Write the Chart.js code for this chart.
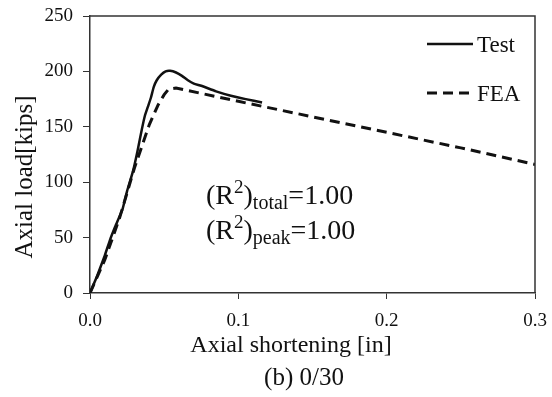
<!DOCTYPE html>
<html>
<head>
<meta charset="utf-8">
<script src="https://cdn.jsdelivr.net/npm/chart.js@4/dist/chart.umd.min.js"></script>
<style>
  html, body { margin: 0; padding: 0; background: #fff; }
  #wrap { width: 552px; height: 397px; }
</style>
</head>
<body>
<div id="wrap"><canvas id="chart" width="552" height="397"></canvas></div>
<script>
// Test curve (axial shortening [in] vs axial load [kips])
const testX = [0, 0.005, 0.010, 0.0135, 0.017, 0.022, 0.025, 0.029, 0.032, 0.035, 0.037, 0.039, 0.041, 0.043, 0.045, 0.048, 0.051, 0.054, 0.058, 0.062, 0.066, 0.070, 0.075, 0.085, 0.095, 0.105, 0.116];
const testY = [0, 16, 34, 48, 60, 76, 92, 110, 128, 148, 160, 168, 176, 186, 192, 197, 200, 200.5, 199, 196, 192, 189, 187, 182, 178, 175, 172];

// FEA curve
const feaX = [0, 0.010, 0.020, 0.030, 0.040, 0.046, 0.050, 0.053, 0.058, 0.100, 0.150, 0.200, 0.250, 0.300];
const feaY = [0, 30, 68, 113, 152, 170, 179, 184, 185, 173, 159, 145, 131, 116];

const xTicks = [0, 0.1, 0.2, 0.3];
const yTicks = [0, 50, 100, 150, 200, 250];

const SERIF = '"Liberation Serif", "Times New Roman", serif';

function pts(xs, ys) {
  return xs.map((x, i) => ({ x: x, y: ys[i] }));
}

// extra text: axis titles, caption, legend, R^2 note, frame
const extras = {
  id: 'extras',
  afterDraw(chart) {
    const ctx = chart.ctx;
    const a = chart.chartArea;
    ctx.save();
    ctx.strokeStyle = '#333';
    ctx.lineWidth = 1.5;
    ctx.beginPath();
    ctx.moveTo(a.left, a.top);
    ctx.lineTo(a.right, a.top);
    ctx.lineTo(a.right, a.bottom);
    ctx.stroke();

    ctx.fillStyle = '#111';
    ctx.textBaseline = 'alphabetic';

    // x title & caption
    ctx.textAlign = 'center';
    ctx.font = '24px ' + SERIF;
    ctx.fillText('Axial shortening [in]', 291, 352);
    ctx.font = '25px ' + SERIF;
    ctx.fillText('(b) 0/30', 304, 385);

    // y title
    ctx.save();
    ctx.translate(32, 177);
    ctx.rotate(-Math.PI / 2);
    ctx.font = '25px ' + SERIF;
    ctx.fillText('Axial load[kips]', 0, 0);
    ctx.restore();

    // legend
    ctx.textAlign = 'left';
    ctx.strokeStyle = '#111';
    ctx.lineWidth = 2.5;
    ctx.beginPath();
    ctx.moveTo(427, 44); ctx.lineTo(473, 44);
    ctx.stroke();
    ctx.setLineDash([10, 6]);
    ctx.lineWidth = 3;
    ctx.beginPath();
    ctx.moveTo(427, 93); ctx.lineTo(475, 93);
    ctx.stroke();
    ctx.setLineDash([]);
    ctx.font = '23px ' + SERIF;
    ctx.fillText('Test', 477, 52);
    ctx.fillText('FEA', 477, 101);

    // R^2 note
    function r2(label, x, y) {
      ctx.font = '28px ' + SERIF;
      ctx.fillText('(R', x, y);
      x += ctx.measureText('(R').width;
      ctx.font = '19px ' + SERIF;
      ctx.fillText('2', x, y - 11);
      x += ctx.measureText('2').width;
      ctx.font = '28px ' + SERIF;
      ctx.fillText(')', x, y);
      x += ctx.measureText(')').width;
      ctx.font = '20px ' + SERIF;
      ctx.fillText(label, x, y + 5);
      x += ctx.measureText(label).width;
      ctx.font = '28px ' + SERIF;
      ctx.fillText('=1.00', x, y);
    }
    r2('total', 206, 204);
    r2('peak', 206, 239);
    ctx.restore();
  }
};

new Chart(document.getElementById('chart'), {
  type: 'line',
  data: {
    datasets: [
      {
        label: 'Test',
        data: pts(testX, testY),
        borderColor: '#111',
        borderWidth: 2.5,
        pointRadius: 0,
        tension: 0.15,
        fill: false
      },
      {
        label: 'FEA',
        data: pts(feaX, feaY),
        borderColor: '#111',
        borderWidth: 3,
        borderDash: [10, 6],
        pointRadius: 0,
        tension: 0,
        fill: false
      }
    ]
  },
  options: {
    responsive: false,
    animation: false,
    layout: { padding: { left: 0, right: 17, top: 16, bottom: 0 } },
    plugins: { legend: { display: false }, tooltip: { enabled: false } },
    scales: {
      x: {
        type: 'linear',
        min: 0, max: 0.3,
        afterFit(s) { s.height = 104; s.paddingLeft = 0; s.paddingRight = 0; },
        afterBuildTicks(s) { s.ticks = xTicks.map(v => ({ value: v })); },
        grid: { drawOnChartArea: false, tickLength: 6, color: '#333', tickColor: '#333' },
        border: { color: '#333', width: 1.5 },
        ticks: {
          padding: 11,
          color: '#111',
          font: { family: SERIF, size: 19 },
          callback: v => v.toFixed(1)
        }
      },
      y: {
        min: 0, max: 250,
        afterFit(s) { s.width = 90; s.paddingTop = 0; s.paddingBottom = 0; },
        afterBuildTicks(s) { s.ticks = yTicks.map(v => ({ value: v })); },
        grid: { drawOnChartArea: false, tickLength: 7, color: '#333', tickColor: '#333' },
        border: { color: '#333', width: 1.5 },
        ticks: {
          padding: 10,
          color: '#111',
          font: { family: SERIF, size: 19 }
        }
      }
    }
  },
  plugins: [extras]
});
</script>
</body>
</html>
